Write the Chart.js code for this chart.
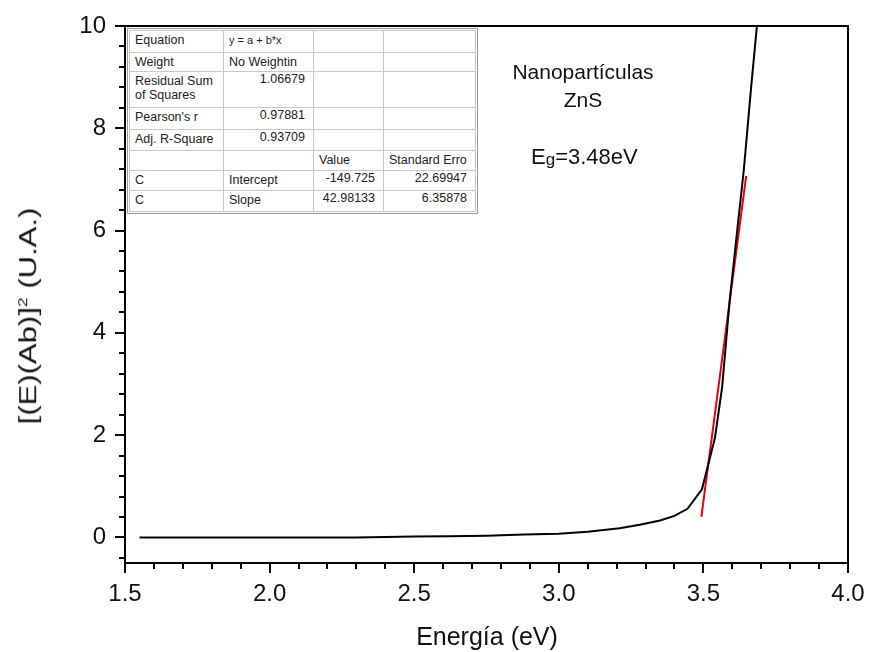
<!DOCTYPE html>
<html>
<head>
<meta charset="utf-8">
<script src="https://cdn.jsdelivr.net/npm/chart.js@4.4.1/dist/chart.umd.min.js"></script>
<style>
  body { margin: 0; background: #fff; }
  #wrap { position: relative; width: 869px; height: 652px; font-family: "Liberation Sans", Arial, sans-serif; }
  #c { position: absolute; left: 0; top: 0; }
  .lbl { position: absolute; color: #111; white-space: nowrap; line-height: 1; }
  #fitbox { position: absolute; left: 127px; top: 28px; border: 1px solid #999; background: #fff; padding: 1px; }
  #fitbox table { border-collapse: collapse; table-layout: fixed; font-size: 12.5px; color: #222; }
  #fitbox td { border: 1px solid #c8c8c8; padding: 2px 4px 0 5px; vertical-align: top; line-height: 14px; overflow: hidden; white-space: nowrap; }
  #fitbox td.n { text-align: right; padding-right: 8px; padding-top: 0; }
</style>
</head>
<body>
<div id="wrap">
  <canvas id="c" width="869" height="652"></canvas>

  <div id="fitbox">
    <table>
      <colgroup><col style="width:94px"><col style="width:90px"><col style="width:70px"><col style="width:92px"></colgroup>
      <tr style="height:22px"><td>Equation</td><td style="font-size:11px">y = a + b*x</td><td></td><td></td></tr>
      <tr style="height:19px"><td>Weight</td><td>No Weightin</td><td></td><td></td></tr>
      <tr style="height:36px"><td>Residual Sum<br>of Squares</td><td class="n">1.06679</td><td></td><td></td></tr>
      <tr style="height:22px"><td>Pearson's r</td><td class="n">0.97881</td><td></td><td></td></tr>
      <tr style="height:21px"><td>Adj. R-Square</td><td class="n">0.93709</td><td></td><td></td></tr>
      <tr style="height:20px"><td></td><td></td><td>Value</td><td>Standard Erro</td></tr>
      <tr style="height:20px"><td>C</td><td>Intercept</td><td class="n">-149.725</td><td class="n">22.69947</td></tr>
      <tr style="height:21px"><td>C</td><td>Slope</td><td class="n">42.98133</td><td class="n">6.35878</td></tr>
    </table>
  </div>

  <div class="lbl" style="left:583px; top:71px; font-size:21px; transform:translate(-50%,-50%)">Nanopartículas</div>
  <div class="lbl" style="left:583px; top:99px; font-size:21px; transform:translate(-50%,-50%)">ZnS</div>
  <div class="lbl" style="left:531px; top:157px; font-size:22px; transform:translateY(-50%)">E<span style="font-size:17px; vertical-align:-1px">g</span>=3.48eV</div>

  <div class="lbl" style="left:487px; top:636px; font-size:25px; transform:translate(-50%,-50%)">Energía (eV)</div>
  <div class="lbl" style="left:28px; top:316px; font-size:23px; transform:translate(-50%,-50%) rotate(-90deg) scaleX(1.35)">[(E)(Ab)]<sup style="font-size:13px">2</sup> (U.A.)</div>
</div>

<script>
// curva (E*Ab)^2 vs energia
const energia = [1.55, 1.70, 1.85, 2.00, 2.15, 2.30, 2.40, 2.50, 2.62, 2.75, 2.88, 3.00, 3.10, 3.21, 3.28, 3.35, 3.40, 3.445, 3.495, 3.54, 3.565, 3.59, 3.615, 3.64, 3.665, 3.69];
const absorcao = [0.0, 0.0, 0.0, 0.0, 0.0, 0.0, 0.01, 0.02, 0.025, 0.035, 0.055, 0.07, 0.11, 0.18, 0.25, 0.33, 0.42, 0.56, 0.94, 1.95, 2.95, 4.58, 5.9, 7.2, 8.8, 10.3];

// reta do ajuste linear (extremos)
const ajusteX = [3.493, 3.648];
const ajusteY = [0.40, 7.07];

const xTicks = [1.5, 2.0, 2.5, 3.0, 3.5, 4.0];
const yTicks = [0, 2, 4, 6, 8, 10];

const curva = energia.map((e, i) => ({ x: e, y: absorcao[i] }));
const reta = ajusteX.map((e, i) => ({ x: e, y: ajusteY[i] }));

// moldura e ticks maiores/menores no estilo Origin
const moldura = {
    id: 'moldura',
    afterDraw(chart) {
        const ctx = chart.ctx;
        const a = chart.chartArea;
        const xs = chart.scales.x, ys = chart.scales.y;
        ctx.save();
        ctx.strokeStyle = '#000';
        ctx.lineWidth = 2;
        ctx.strokeRect(a.left, a.top, a.right - a.left, a.bottom - a.top);
        ctx.beginPath();
        for (let i = 0; i <= 25; i++) {
            const v = 1.5 + i * 0.1;
            const px = Math.round(xs.getPixelForValue(v));
            const len = (i % 5 === 0) ? 10 : 6;
            ctx.moveTo(px, a.bottom);
            ctx.lineTo(px, a.bottom + len);
        }
        for (let i = -1; i <= 25; i++) {
            const v = i * 0.4;
            const py = Math.round(ys.getPixelForValue(v));
            const len = (i % 5 === 0) ? 10 : 6;
            ctx.moveTo(a.left, py);
            ctx.lineTo(a.left - len, py);
        }
        ctx.stroke();
        ctx.restore();
    }
};

new Chart(document.getElementById('c'), {
    type: 'scatter',
    data: {
        datasets: [
            { data: curva, showLine: true, borderColor: '#000', borderWidth: 2, pointRadius: 0, tension: 0 },
            { data: reta, showLine: true, borderColor: '#e8000b', borderWidth: 2, pointRadius: 0 }
        ]
    },
    options: {
        responsive: false,
        animation: false,
        events: [],
        layout: { padding: { top: 26, right: 21, left: 0, bottom: 0 } },
        plugins: { legend: { display: false }, tooltip: { enabled: false } },
        scales: {
            x: {
                type: 'linear', min: 1.5, max: 4.0,
                grid: { display: false, drawTicks: false },
                border: { display: false },
                afterFit: s => { s.height = 89; s.paddingLeft = 0; s.paddingRight = 0; },
                afterBuildTicks: s => { s.ticks = xTicks.map(v => ({ value: v })); },
                ticks: { padding: 17, color: '#111', font: { family: 'Liberation Sans', size: 24 }, callback: v => v.toFixed(1) }
            },
            y: {
                type: 'linear', min: -0.5, max: 10,
                grid: { display: false, drawTicks: false },
                border: { display: false },
                afterFit: s => { s.width = 125; s.paddingTop = 0; s.paddingBottom = 0; },
                afterBuildTicks: s => { s.ticks = yTicks.map(v => ({ value: v })); },
                ticks: { padding: 19, color: '#111', font: { family: 'Liberation Sans', size: 24 } }
            }
        }
    },
    plugins: [moldura]
});
</script>
</body>
</html>
